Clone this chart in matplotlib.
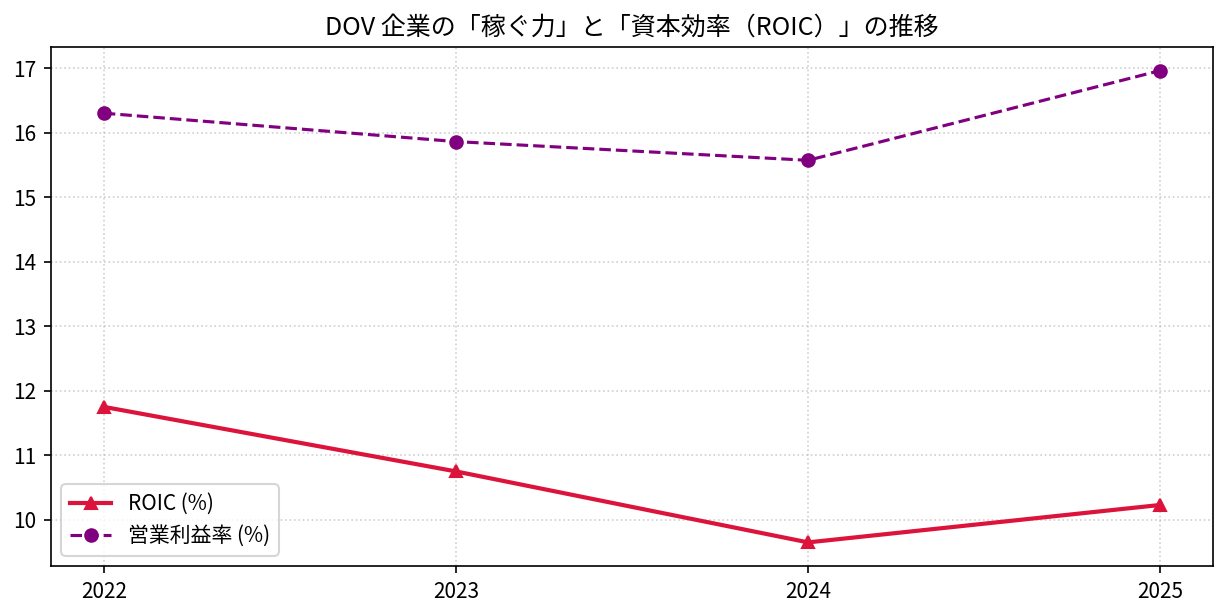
import matplotlib
matplotlib.use("Agg")
import matplotlib.pyplot as plt

plt.rcParams['font.family'] = ['Noto Sans CJK JP', 'DejaVu Sans']

years = ["2022", "2023", "2024", "2025"]
roic = [11.75, 10.75, 9.65, 10.23]
op_margin = [16.30, 15.86, 15.57, 16.96]

fig = plt.figure(figsize=(1228/150, 616/150), dpi=150)
ax = fig.add_axes([0.0415, 0.0812, 0.9463, 0.8425])

x = list(range(len(years)))
ax.plot(x, roic, color='crimson', marker='^', linewidth=2, label='ROIC (%)')
ax.plot(x, op_margin, color='purple', marker='o', linestyle='--', linewidth=1.5, label='営業利益率 (%)')

ax.set_xticks(x)
ax.set_xticklabels(years)
ax.set_title('DOV 企業の「稼ぐ力」と「資本効率（ROIC）」の推移', fontsize=12)
ax.grid(True, linestyle=':', alpha=0.6)
ax.legend(loc='lower left')

fig.savefig('out.png', dpi=150)
